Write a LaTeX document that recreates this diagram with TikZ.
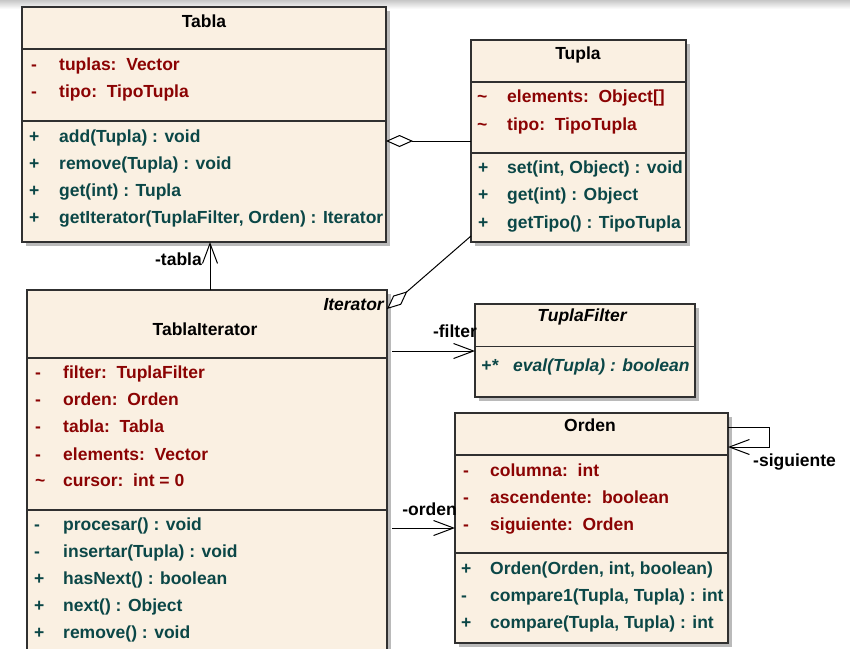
\documentclass[tikz,border=0pt]{standalone}
\usepackage{fontspec}
\setmainfont{Liberation Sans}
\usetikzlibrary{arrows.meta,shadows,calc}
\definecolor{UmlFill}{HTML}{FAF0E2}
\definecolor{UmlLine}{HTML}{303030}
\definecolor{UmlAttr}{HTML}{8B0303}
\definecolor{UmlOper}{HTML}{0B4747}
\tikzset{
  classbox/.style={draw=UmlLine,fill=UmlFill,line width=1.2pt,
    inner sep=0pt,outer sep=0pt,anchor=north west,
    drop shadow={shadow xshift=4pt,shadow yshift=-4pt,
      fill=black!27,opacity=1}},
  sep/.style={draw=UmlLine,line width=1.2pt},
  umlfont/.style={font=\bfseries\fontsize{17.5}{20}\selectfont},
  classname/.style={umlfont,text=black,inner sep=0pt,anchor=base},
  vis/.style={umlfont,inner sep=0pt,anchor=base west},
  member/.style={umlfont,inner sep=0pt,anchor=base west},
  rolelabel/.style={umlfont,text=black,inner sep=0pt},
  assoc/.style={line width=1pt,-{Straight Barb[length=20pt,width=15pt]}},
  aggr/.style={line width=1pt,-{Diamond[length=27pt,width=12pt,fill=white]}}
}
\begin{document}
\begin{tikzpicture}[x=1pt,y=-1pt]
  \clip (0,0) rectangle (850,648);
  \shade[top color=black!22,bottom color=white] (0,0) rectangle (850,9);

  % Tabla
  \node[classbox,minimum width=364pt,minimum height=235pt] (tabla) at (22,7) {};
  \draw[sep] (tabla.west |- 0,49) -- (tabla.east |- 0,49);
  \draw[sep] (tabla.west |- 0,121) -- (tabla.east |- 0,121);
  \node[classname] (tabla-name) at (204,27.3) {Tabla};
  \foreach \i/\v/\t/\y in {1/-/{tuplas:\ \ Vector}/70.5,
      2/-/{tipo:\ \ TipoTupla}/97.5}{
    \node[vis,text=UmlAttr] (tabla-av\i) at (31,\y) {\v};
    \node[member,text=UmlAttr] (tabla-a\i) at (59,\y) {\t};
  }
  \foreach \i/\v/\t/\y in {1/+/{add(Tupla) : void}/142.5,
      2/+/{remove(Tupla) : void}/169.5,
      3/+/{get(int) : Tupla}/196.5,
      4/+/{getIterator(TuplaFilter, Orden) : Iterator}/223}{
    \node[vis,text=UmlOper] (tabla-ov\i) at (29,\y) {\v};
    \node[member,text=UmlOper] (tabla-o\i) at (59,\y) {\t};
  }

  % Tupla
  \node[classbox,minimum width=215pt,minimum height=202pt] (tupla) at (471,40) {};
  \draw[sep] (tupla.west |- 0,82) -- (tupla.east |- 0,82);
  \draw[sep] (tupla.west |- 0,153) -- (tupla.east |- 0,153);
  \node[classname] (tupla-name) at (578,59.3) {Tupla};
  \foreach \i/\v/\t/\y in {1/\textasciitilde/{elements:\ \ Object[]}/102.7,
      2/\textasciitilde/{tipo:\ \ TipoTupla}/130}{
    \node[vis,text=UmlAttr] (tupla-av\i) at (477,\y) {\v};
    \node[member,text=UmlAttr] (tupla-a\i) at (507,\y) {\t};
  }
  \foreach \i/\v/\t/\y in {1/+/{set(int, Object) : void}/173.3,
      2/+/{get(int) : Object}/200.7,
      3/+/{getTipo() : TipoTupla}/228}{
    \node[vis,text=UmlOper] (tupla-ov\i) at (478,\y) {\v};
    \node[member,text=UmlOper] (tupla-o\i) at (507,\y) {\t};
  }

  % TablaIterator
  \node[classbox,minimum width=360pt,minimum height=380pt] (tablaiter) at (27,290) {};
  \draw[sep] (tablaiter.west |- 0,358) -- (tablaiter.east |- 0,358);
  \draw[sep] (tablaiter.west |- 0,510) -- (tablaiter.east |- 0,510);
  \node[classname] (tablaiter-name) at (205,335) {TablaIterator};
  \node[classname,anchor=base east,font=\bfseries\itshape\fontsize{17.5}{20}\selectfont]
    (tablaiter-iface) at (384,310.5) {Iterator};
  \foreach \i/\v/\t/\y in {1/-/{filter:\ \ TuplaFilter}/378.3,
      2/-/{orden:\ \ Orden}/405,
      3/-/{tabla:\ \ Tabla}/432.3,
      4/-/{elements:\ \ Vector}/460,
      5/\textasciitilde/{cursor:\ \ int = 0}/486.7}{
    \node[vis,text=UmlAttr] (tablaiter-av\i) at (35,\y) {\v};
    \node[member,text=UmlAttr] (tablaiter-a\i) at (63,\y) {\t};
  }
  \foreach \i/\v/\t/\y in {1/-/{procesar() : void}/530.7,
      2/-/{insertar(Tupla) : void}/557.7,
      3/+/{hasNext() : boolean}/584.3,
      4/+/{next() : Object}/611.7,
      5/+/{remove() : void}/638.3}{
    \node[vis,text=UmlOper] (tablaiter-ov\i) at (34,\y) {\v};
    \node[member,text=UmlOper] (tablaiter-o\i) at (63,\y) {\t};
  }

  % TuplaFilter
  \node[classbox,minimum width=220pt,minimum height=93pt] (tuplafilter) at (475,304) {};
  \draw[sep] (tuplafilter.west |- 0,346.5) -- (tuplafilter.east |- 0,346.5);
  \node[classname,font=\bfseries\itshape\fontsize{17.5}{20}\selectfont]
    (tuplafilter-name) at (582,321.7) {TuplaFilter};
  \node[vis,text=UmlOper,font=\bfseries\itshape\fontsize{17.5}{20}\selectfont]
    (tuplafilter-ov1) at (481,371.7) {+*};
  \node[member,text=UmlOper,font=\bfseries\itshape\fontsize{17.5}{20}\selectfont]
    (tuplafilter-o1) at (513,371.7) {eval(Tupla) : boolean};

  % Orden
  \node[classbox,minimum width=273pt,minimum height=230pt] (orden) at (455,413) {};
  \draw[sep] (orden.west |- 0,455) -- (orden.east |- 0,455);
  \draw[sep] (orden.west |- 0,553) -- (orden.east |- 0,553);
  \node[classname] (orden-name) at (590,431.7) {Orden};
  \foreach \i/\v/\t/\y in {1/-/{columna:\ \ int}/476,
      2/-/{ascendente:\ \ boolean}/503.3,
      3/-/{siguiente:\ \ Orden}/530.7}{
    \node[vis,text=UmlAttr] (orden-av\i) at (463,\y) {\v};
    \node[member,text=UmlAttr] (orden-a\i) at (490,\y) {\t};
  }
  \foreach \i/\v/\t/\y in {1/+/{Orden(Orden, int, boolean)}/574.3,
      2/-/{compare1(Tupla, Tupla) : int}/601.7,
      3/+/{compare(Tupla, Tupla) : int}/628.7}{
    \node[vis,text=UmlOper] (orden-ov\i) at (461,\y) {\v};
    \node[member,text=UmlOper] (orden-o\i) at (490,\y) {\t};
  }

  % relations
  \draw[aggr] (tupla.west |- 0,141) -- (tabla.east |- 0,141);
  \draw[aggr] (tupla.west |- 0,236) -- (tablaiter.east |- 0,309);
  \draw[assoc] (tablaiter.north -| 210,0) -- (tabla.south -| 210,0);
  \draw[assoc] ($(tablaiter.east |- 0,351)+(5,0)$) -- (tuplafilter.west |- 0,351);
  \draw[assoc] ($(tablaiter.east |- 0,528)+(5,0)$) -- (orden.west |- 0,528);
  \coordinate (siguiente-loop) at (769,437);
  \draw[assoc] (orden.east |- 0,427) -| (siguiente-loop) |- (orden.east |- 0,447);

  \node[rolelabel,anchor=base east] (tabla-role) at (202,265) {-tabla};
  \node[rolelabel,anchor=base east] (filter-role) at (477,337.3) {-filter};
  \node[rolelabel,anchor=base east] (orden-role) at (457,515) {-orden};
  \node[rolelabel,anchor=base west] (siguiente-role) at (753,466) {-siguiente};
\end{tikzpicture}
\end{document}
